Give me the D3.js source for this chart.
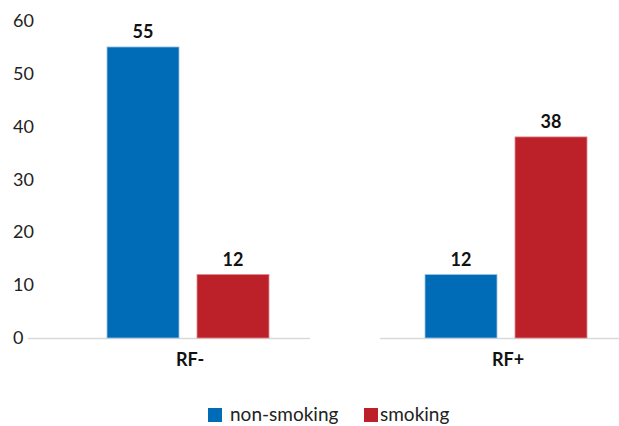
<!DOCTYPE html>
<html>
<head>
<meta charset="utf-8">
<script src="https://cdn.jsdelivr.net/npm/d3@7"></script>
<style>
  html, body { margin: 0; padding: 0; background: #fff; }
  svg { display: block; font-family: "Lato", "Open Sans", sans-serif; }
</style>
</head>
<body>
<svg id="chart" width="619" height="426"></svg>
<script>
// Share of patients by RF status and smoking habit
const categories = ["RF-", "RF+"];
const seriesNames = ["non-smoking", "smoking"];
const nonSmoking = [55, 12];
const smoking = [12, 38];
const yTicks = [0, 10, 20, 30, 40, 50, 60];
const colors = ["#006CB7", "#BC2029"];

const rows = categories.map((c, i) => ({
  category: c,
  values: [
    { key: seriesNames[0], value: nonSmoking[i] },
    { key: seriesNames[1], value: smoking[i] }
  ]
}));

const svg = d3.select("#chart");

const x0 = d3.scaleBand().domain(categories).range([29, 665]).padding(0);
const x1 = d3.scaleBand().domain(seriesNames)
  .range([x0.bandwidth() / 2 - 81, x0.bandwidth() / 2 + 81])
  .paddingInner(0.2).paddingOuter(0);
const y = d3.scaleLinear().domain([0, 60]).range([338, 20.5]);
const color = d3.scaleOrdinal().domain(seriesNames).range(colors);

// y tick labels (left aligned, no axis line)
svg.append("g").selectAll("text")
  .data(yTicks)
  .join("text")
  .attr("x", 13)
  .attr("y", d => y(d))
  .attr("dy", "0.35em")
  .attr("font-size", 18)
  .attr("fill", "#222")
  .text(d => d);

// baseline, drawn in two pieces
const baseSegs = [[28, 310], [380, 619]];
svg.append("g").selectAll("line")
  .data(baseSegs)
  .join("line")
  .attr("x1", d => d[0])
  .attr("x2", d => d[1])
  .attr("y1", y(0) + 0.5)
  .attr("y2", y(0) + 0.5)
  .attr("stroke", "#d9d9d9")
  .attr("stroke-width", 1.5);

// bars
const groups = svg.append("g").selectAll("g")
  .data(rows)
  .join("g")
  .attr("transform", d => `translate(${x0(d.category)},0)`);

groups.selectAll("rect")
  .data(d => d.values)
  .join("rect")
  .attr("x", d => x1(d.key))
  .attr("y", d => y(d.value))
  .attr("width", x1.bandwidth())
  .attr("height", d => y(0) - y(d.value))
  .attr("fill", d => color(d.key))
  .attr("stroke", d => d.key === seriesNames[0] ? "#9cc3e6" : "#e08a90")
  .attr("stroke-width", 0.8);

// value labels
groups.selectAll("text")
  .data(d => d.values)
  .join("text")
  .attr("x", d => x1(d.key) + x1.bandwidth() / 2)
  .attr("y", d => y(d.value) - 9)
  .attr("text-anchor", "middle")
  .attr("font-size", 18)
  .attr("font-weight", "bold")
  .attr("fill", "#111")
  .text(d => d.value);

// category labels
svg.append("g").selectAll("text")
  .data(categories)
  .join("text")
  .attr("x", d => x0(d) + x0.bandwidth() / 2 + 2)
  .attr("y", 366)
  .attr("text-anchor", "middle")
  .attr("font-size", 18)
  .attr("font-weight", "bold")
  .attr("fill", "#111")
  .text(d => d);

// legend
const legendItems = [
  { key: seriesNames[0], x: 208, tx: 230 },
  { key: seriesNames[1], x: 364, tx: 380 }
];
const legend = svg.append("g");
legend.selectAll("rect")
  .data(legendItems)
  .join("rect")
  .attr("x", d => d.x)
  .attr("y", 408)
  .attr("width", 14)
  .attr("height", 14)
  .attr("fill", d => color(d.key));
legend.selectAll("text")
  .data(legendItems)
  .join("text")
  .attr("x", d => d.tx)
  .attr("y", 421)
  .attr("font-size", 19)
  .attr("fill", "#222")
  .text(d => d.key);
</script>
</body>
</html>
